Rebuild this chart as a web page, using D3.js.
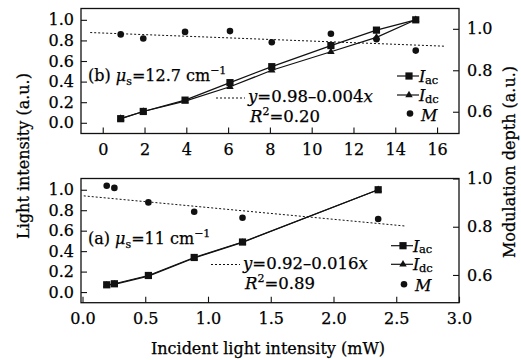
<!DOCTYPE html>
<html>
<head>
<meta charset="utf-8">
<script src="https://cdn.jsdelivr.net/npm/d3@7"></script>
<style>
  body { margin: 0; background: #fff; }
  text { font-family: "DejaVu Serif", serif; fill: #000; stroke: #000; stroke-width: 0.25px; }
</style>
</head>
<body>
<div id="chart"></div>
<script>
// panel (b): mu_s = 12.7 cm-1
var topX = [0.86, 1.94, 3.94, 6.09, 8.09, 10.92, 13.1, 14.98];
var topIac = [0.04, 0.11, 0.22, 0.39, 0.545, 0.75, 0.90, 1.0];
var topIdc = [0.04, 0.11, 0.21, 0.35, 0.51, 0.69, 0.83, 1.0];
var topM = [0.973, 0.953, 0.985, 0.989, 0.935, 0.976, 0.95, 0.895];
var topFitX = [-0.6, 16.4];
var topFitY = [0.982, 0.916];
var topXTicks = [0, 2, 4, 6, 8, 10, 12, 14, 16];

// panel (a): mu_s = 11 cm-1
var botX = [0.193, 0.254, 0.525, 0.89, 1.275, 2.356];
var botIac = [0.071, 0.081, 0.162, 0.338, 0.489, 1.0];
var botIdc = [0.067, 0.076, 0.156, 0.333, 0.485, 1.0];
var botM = [0.97, 0.961, 0.901, 0.862, 0.837, 0.832];
var botFitX = [0.01, 2.57];
var botFitY = [0.928, 0.803];
var botXTicks = [0, 0.5, 1.0, 1.5, 2.0, 2.5, 3.0];

var leftTicks = [0, 0.2, 0.4, 0.6, 0.8, 1.0];
var rightTicks = [0.6, 0.8, 1.0];

var svgWidth = 521, svgHeight = 360;

var svg = d3.select("#chart")
  .append("svg")
  .attr("width", svgWidth)
  .attr("height", svgHeight);

function drawPanel(p) {
  var x = d3.scaleLinear().domain(p.xDomain).range([p.left + p.xPad, p.right]);
  var yL = d3.scaleLinear().domain([-0.104, 1.11]).range([p.bottom, p.top]);
  var yR = d3.scaleLinear().domain(p.rDomain).range([p.bottom, p.top]);
  var g = svg.append("g");

  // axes, ticks point inward
  var xAxis = d3.axisBottom(x).tickValues(p.xTicks).tickSize(-6).tickPadding(6)
    .tickFormat(p.xFormat);
  var gx = g.append("g").attr("transform", `translate(0,${p.bottom})`).call(xAxis);

  var gl = g.append("g").attr("transform", `translate(${p.left},0)`)
    .call(d3.axisLeft(yL).tickValues(leftTicks).tickSize(-6).tickPadding(7).tickFormat(d3.format(".1f")));

  var gr = g.append("g").attr("transform", `translate(${p.right},0)`)
    .call(d3.axisRight(yR).tickValues(rightTicks).tickSize(-6).tickPadding(8).tickFormat(d3.format(".1f")));

  [gx, gl, gr].forEach(a => {
    a.select(".domain").remove();
    a.selectAll("line").attr("stroke", "#111").attr("stroke-width", 1.1);
    a.selectAll("text").style("font-size", "16px").style("font-family", "DejaVu Serif").attr("fill", "#000");
  });
  gx.selectAll("text").attr("dy", "0.95em");

  g.append("rect")
    .attr("x", p.left).attr("y", p.top)
    .attr("width", p.right - p.left).attr("height", p.bottom - p.top)
    .attr("fill", "none").attr("stroke", "#111").attr("stroke-width", 1.3);

  var line = d3.line();
  var ptsAc = p.xs.map((v, i) => [x(v), yL(p.iac[i])]);
  var ptsDc = p.xs.map((v, i) => [x(v), yL(p.idc[i])]);

  g.append("path").attr("d", line(ptsDc)).attr("fill", "none").attr("stroke", "#111").attr("stroke-width", 1.2);
  g.append("path").attr("d", line(ptsAc)).attr("fill", "none").attr("stroke", "#111").attr("stroke-width", 1.2);

  // fit line
  g.append("path")
    .attr("d", line(p.fitX.map((v, i) => [x(v), yR(p.fitY[i])])))
    .attr("fill", "none").attr("stroke", "#111").attr("stroke-width", 1)
    .attr("stroke-dasharray", "2,2");

  var tri = d3.symbol().type(d3.symbolTriangle).size(24);
  g.selectAll(".tri").data(ptsDc).enter().append("path")
    .attr("d", tri).attr("transform", d => `translate(${d[0]},${d[1]})`).attr("fill", "#111");

  g.selectAll(".sq").data(ptsAc).enter().append("rect")
    .attr("x", d => d[0] - 3.6).attr("y", d => d[1] - 3.6)
    .attr("width", 7.2).attr("height", 7.2).attr("fill", "#111");

  g.selectAll(".dot").data(p.xs).enter().append("circle")
    .attr("cx", d => x(d)).attr("cy", (d, i) => yR(p.m[i]))
    .attr("r", 3.3).attr("fill", "#111");

  // panel label
  var lab = g.append("text").attr("x", p.labX).attr("y", p.labY).style("font-size", "16px");
  lab.append("tspan").text(p.tag + " ");
  lab.append("tspan").style("font-style", "italic").text("\u03bc");
  lab.append("tspan").attr("dy", 4).style("font-size", "11px").text("s");
  lab.append("tspan").attr("dy", -4).text("=" + p.mus + " cm");
  lab.append("tspan").attr("dy", -7).style("font-size", "11px").text("\u22121");

  // fit equation
  g.append("line")
    .attr("x1", p.eqX - 32).attr("x2", p.eqX - 3)
    .attr("y1", p.eqY - 4).attr("y2", p.eqY - 4)
    .attr("stroke", "#111").attr("stroke-dasharray", "2,2");
  var eq = g.append("text").attr("x", p.eqX).attr("y", p.eqY).style("font-size", "16.5px");
  eq.append("tspan").style("font-style", "italic").text("y");
  eq.append("tspan").text("=" + p.eqA + "\u2013" + p.eqB);
  eq.append("tspan").style("font-style", "italic").text("x");
  var r2 = g.append("text").attr("x", p.eqX + 2).attr("y", p.eqY + 20).style("font-size", "16.5px");
  r2.append("tspan").style("font-style", "italic").text("R");
  r2.append("tspan").attr("dy", -7).style("font-size", "11px").text("2");
  r2.append("tspan").attr("dy", 7).text("=" + p.r2);

  // legend
  var lx = p.legX;
  var rows = p.legY;
  [0, 1].forEach(i => {
    g.append("line").attr("x1", lx - 12).attr("x2", lx + 10).attr("y1", rows[i]).attr("y2", rows[i])
      .attr("stroke", "#111").attr("stroke-width", 1.2);
  });
  g.append("rect").attr("x", lx - 3.6).attr("y", rows[0] - 3.6).attr("width", 7.2).attr("height", 7.2).attr("fill", "#111");
  g.append("path").attr("d", tri).attr("transform", `translate(${lx},${rows[1]})`).attr("fill", "#111");
  g.append("circle").attr("cx", lx + 1).attr("cy", rows[2]).attr("r", 3.3).attr("fill", "#111");
  ["ac", "dc"].forEach((s, i) => {
    g.append("text").attr("x", lx + 10).attr("y", rows[i] + 6).style("font-size", "16px")
      .style("font-style", "italic").text("I");
    g.append("text").attr("x", lx + 16).attr("y", rows[i] + 7.5).style("font-size", "11.5px").text(s);
  });
  g.append("text").attr("x", lx + 12).attr("y", rows[2] + 7).style("font-size", "16px")
    .style("font-style", "italic").text("M");
}

drawPanel({
  left: 81, right: 459, top: 8.5, bottom: 133.5, xPad: 0,
  xDomain: [-1.04, 17.05], rDomain: [0.495, 1.098],
  xTicks: topXTicks, xFormat: d3.format("d"),
  xs: topX, iac: topIac, idc: topIdc, m: topM, fitX: topFitX, fitY: topFitY,
  tag: "(b)", mus: "12.7", labX: 88, labY: 81,
  eqX: 248, eqY: 102, eqA: "0.98", eqB: "0.004", r2: "0.20",
  legX: 409, legY: [76, 95, 113.5]
});

drawPanel({
  left: 81, right: 459, top: 178.5, bottom: 302.7, xPad: 1.5,
  xDomain: [0, 3], rDomain: [0.485, 1.0],
  xTicks: botXTicks, xFormat: d3.format(".1f"),
  xs: botX, iac: botIac, idc: botIdc, m: botM, fitX: botFitX, fitY: botFitY,
  tag: "(a)", mus: "11", labX: 88, labY: 243.5,
  eqX: 243, eqY: 268.5, eqA: "0.92", eqB: "0.016", r2: "0.89",
  legX: 403, legY: [245.7, 264.3, 284.3]
});

// axis titles
svg.append("text")
  .attr("transform", "translate(29,156) rotate(-90)")
  .attr("text-anchor", "middle")
  .style("font-size", "16px")
  .text("Light intensity (a.u.)");

svg.append("text")
  .attr("transform", "translate(515,162) rotate(-90)")
  .attr("text-anchor", "middle")
  .style("font-size", "16px")
  .text("Modulation depth (a.u.)");

svg.append("text")
  .attr("x", 268).attr("y", 354)
  .attr("text-anchor", "middle")
  .style("font-size", "16px")
  .text("Incident light intensity (mW)");
</script>
</body>
</html>
